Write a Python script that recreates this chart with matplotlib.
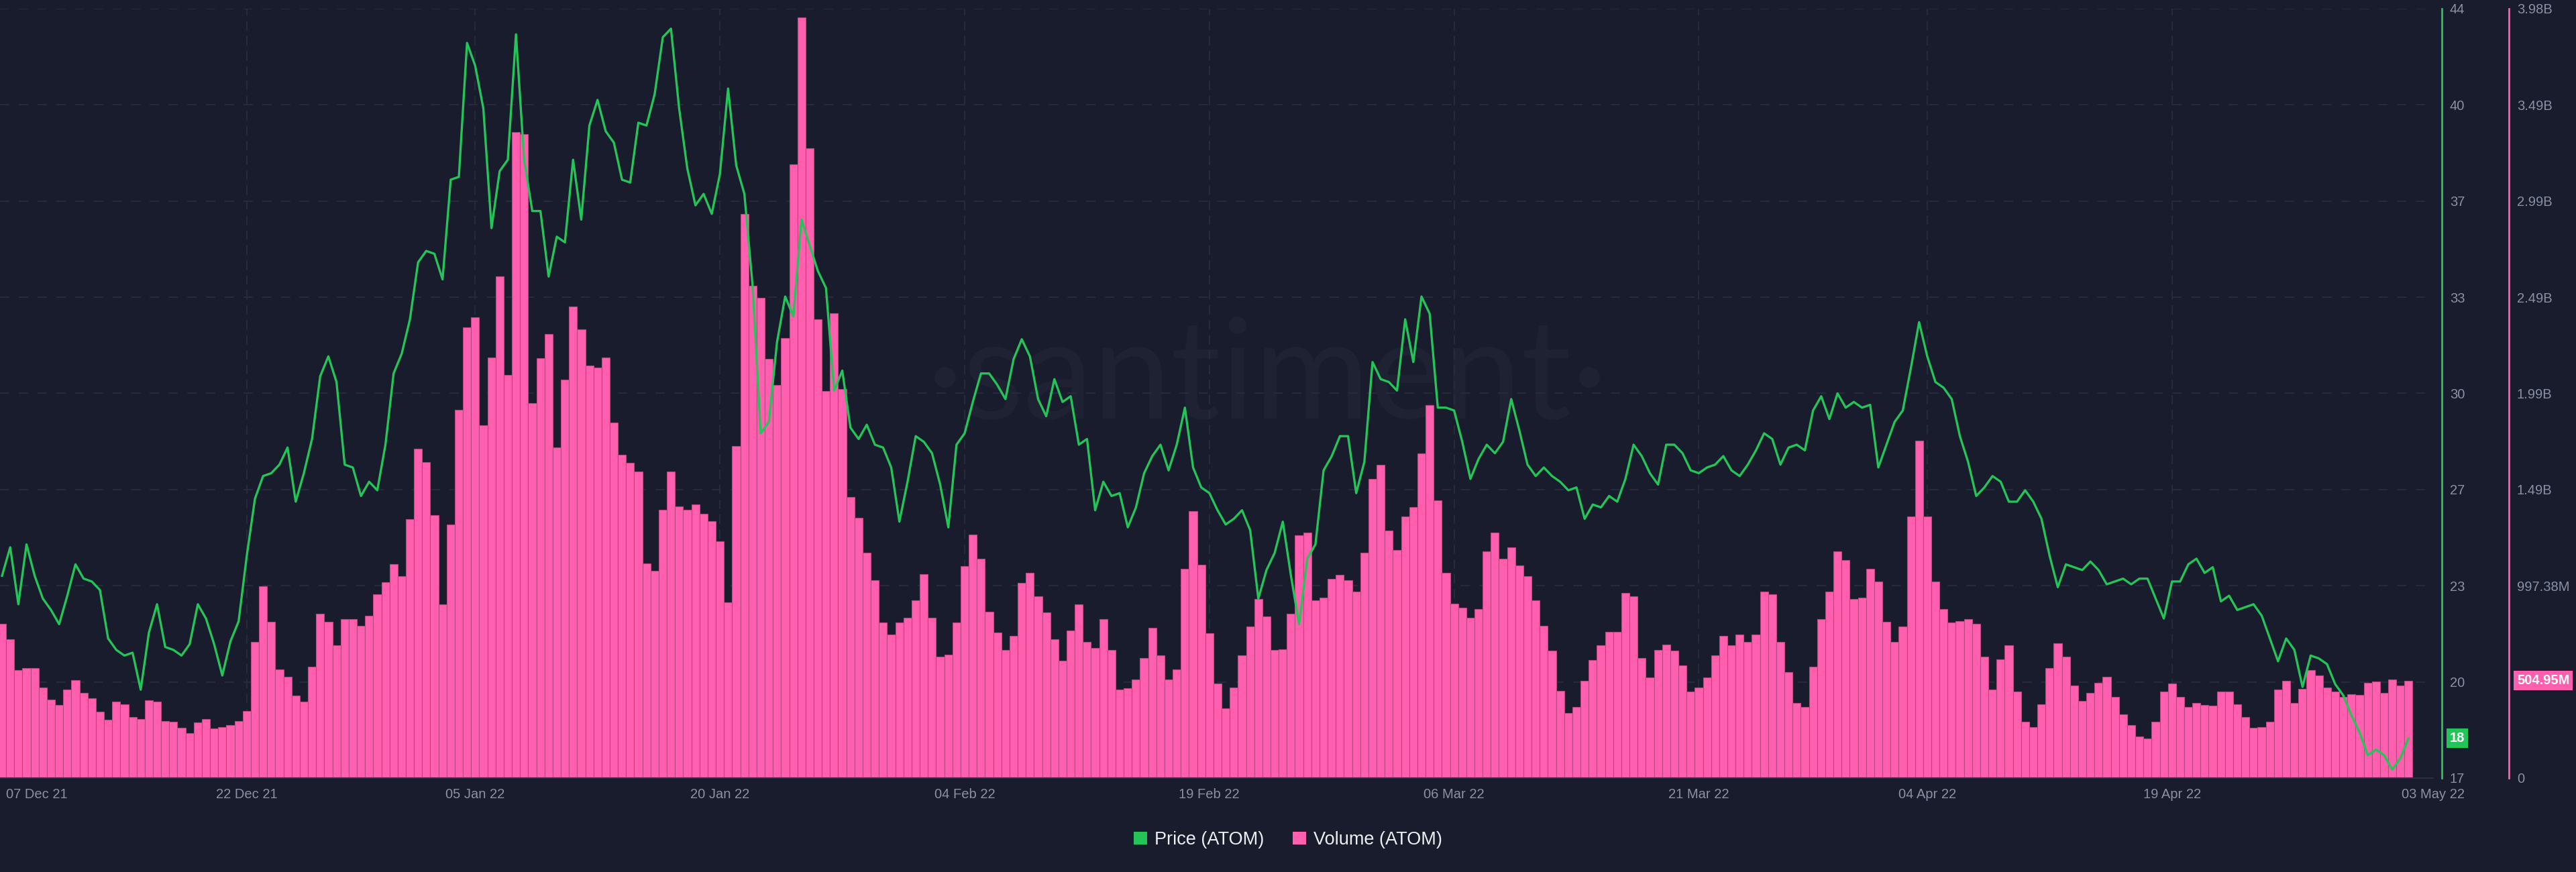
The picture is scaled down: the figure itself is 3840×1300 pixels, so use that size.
import numpy as np
import pandas as pd
import matplotlib
matplotlib.use("Agg")
import matplotlib.pyplot as plt
from matplotlib.patches import Patch
from matplotlib.transforms import blended_transform_factory

# ============================================================
# Data (12h samples)
# ============================================================
price = [
    24.1, 25.1, 23.1, 25.2, 24.1, 23.3, 22.9, 22.4, 23.4, 24.5, 24.0, 23.9, 23.6, 21.9, 21.5,
    21.3, 21.4, 20.1, 22.1, 23.1, 21.6, 21.5, 21.3, 21.7, 23.1, 22.6, 21.7, 20.6, 21.8, 22.5,
    24.8, 26.8, 27.6, 27.7, 28.0, 28.6, 26.7, 27.7, 28.9, 31.1, 31.8, 30.9, 28.0,
    27.9, 26.9, 27.4, 27.1, 28.7, 31.2, 31.9, 33.1, 35.1, 35.5, 35.4, 34.5, 38.0, 38.1, 42.8,
    42.0, 40.5, 36.3, 38.3, 38.7, 43.1, 38.7, 36.9, 36.9, 34.6, 36.0, 35.8, 38.7, 36.6, 39.9,
    40.8, 39.7, 39.3, 38.0, 37.9, 40.0, 39.9, 41.0, 43.0, 43.3, 40.5, 38.4, 37.1,
    37.5, 36.8, 38.2, 41.2, 38.5, 37.5, 34.3, 29.1, 29.5, 32.3, 33.9, 33.2, 36.6, 35.7, 34.8,
    34.2, 30.6, 31.3, 29.3, 28.9, 29.4, 28.7, 28.6, 27.9, 26.0, 27.4, 29.0, 28.8, 28.4, 27.3,
    25.8, 28.7, 29.1, 30.2, 31.2, 31.2, 30.8, 30.3, 31.7, 32.4, 31.8, 30.3, 29.7,
    31.0, 30.2, 30.4, 28.7, 28.9, 26.4, 27.4, 26.9, 27.0, 25.8, 26.5, 27.7, 28.3, 28.7, 27.8,
    28.7, 30.0, 27.9, 27.2, 27.0, 26.4, 25.9, 26.1, 26.4, 25.7, 23.3, 24.3, 24.9, 26.0, 24.1,
    22.4, 24.7, 25.2, 27.8, 28.3, 29.0, 29.0, 27.0, 28.1, 31.6, 31.0, 30.9, 30.6,
    33.1, 31.6, 33.9, 33.3, 30.0, 30.0, 29.9, 28.8, 27.5, 28.2, 28.7, 28.4, 28.8, 30.3, 29.2,
    28.0, 27.6, 27.9, 27.6, 27.4, 27.1, 27.2, 26.1, 26.6, 26.5, 26.9, 26.7, 27.5, 28.7, 28.3,
    27.7, 27.3, 28.7, 28.7, 28.4, 27.8, 27.7, 27.9, 28.0, 28.3, 27.8, 27.6,
    28.0, 28.5, 29.1, 28.9, 28.0, 28.6, 28.7, 28.5, 29.9, 30.4, 29.6, 30.5, 30.0, 30.2, 30.0,
    30.1, 27.9, 28.7, 29.5, 29.9, 31.4, 33.0, 31.8, 30.9, 30.7, 30.3, 29.0, 28.1, 26.9, 27.2,
    27.6, 27.4, 26.7, 26.7, 27.1, 26.7, 26.1, 24.8, 23.7, 24.5, 24.4, 24.3, 24.6,
    24.3, 23.8, 23.9, 24.0, 23.8, 24.0, 24.0, 23.3, 22.6, 23.9, 23.9, 24.5, 24.7, 24.2, 24.4,
    23.2, 23.4, 22.9, 23.0, 23.1, 22.7, 21.9, 21.1, 21.9, 21.5, 20.2, 21.3, 21.2, 21.0, 20.3,
    19.9, 19.2, 18.6, 17.8, 18.0, 17.8, 17.3, 17.7, 18.4,
]

# volume in millions
volume_m = [
    799, 720, 559, 572, 570, 468, 408, 380, 458, 507, 442, 414, 343, 302, 395,
    382, 317, 307, 403, 395, 297, 291, 260, 234, 289, 307, 258, 265, 276, 297,
    349, 707, 994, 812, 564, 525, 427, 395, 577, 851, 812, 689, 825,
    825, 791, 843, 952, 1014, 1111, 1046, 1342, 1709, 1639, 1363, 900, 1316, 1909, 2338,
    2390, 1831, 2182, 2601, 2091, 3350, 3340, 1946, 2177, 2302, 1714, 2065, 2445, 2328, 2138,
    2130, 2182, 1844, 1678, 1636, 1589, 1113, 1074, 1392, 1589, 1410, 1392, 1420,
    1371, 1332, 1228, 913, 1722, 2924, 2554, 2489, 2174, 2039, 2281, 3184, 3946, 3267, 2380,
    2008, 2411, 2018, 1457, 1350, 1168, 1027, 806, 746, 806, 830, 923, 1059, 830, 629,
    640, 806, 1098, 1264, 1137, 864, 754, 663, 739, 1012, 1066, 942, 858,
    720, 609, 765, 900, 707, 674, 825, 663, 458, 466, 510, 622, 778, 635, 512,
    564, 1085, 1384, 1105, 752, 492, 362, 471, 635, 786, 929, 838, 663, 668, 851,
    1259, 1272, 923, 934, 1033, 1053, 1025, 968, 1168, 1550, 1623, 1285, 1183,
    1358, 1405, 1683, 1935, 1441, 1066, 903, 882, 830, 877, 1176, 1272, 1137, 1196, 1103,
    1046, 923, 791, 661, 453, 338, 369, 505, 611, 689, 759, 759, 960, 942, 622,
    520, 663, 692, 661, 583, 447, 468, 523, 635, 739, 687, 746,
    707, 746, 968, 952, 707, 551, 388, 369, 577, 825, 968, 1176, 1131, 929, 934,
    1085, 1020, 812, 707, 786, 1358, 1748, 1358, 1020, 877, 806, 814, 825, 799, 629,
    458, 616, 687, 447, 291, 265, 382, 570, 700, 629, 479, 401, 440,
    494, 525, 421, 330, 276, 216, 205, 291, 447, 492, 421, 369, 388, 380, 375,
    447, 447, 382, 317, 260, 265, 291, 460, 505, 390, 463, 560, 531, 468, 447,
    421, 434, 432, 494, 502, 440, 512, 479, 504.95,
]

dates = pd.date_range("2021-12-07 00:00", periods=len(price), freq="12h")

x_labels = ["07 Dec 21", "22 Dec 21", "05 Jan 22", "20 Jan 22", "04 Feb 22", "19 Feb 22",
            "06 Mar 22", "21 Mar 22", "04 Apr 22", "19 Apr 22", "03 May 22"]
x_label_dates = ["2021-12-07", "2021-12-22", "2022-01-05", "2022-01-20", "2022-02-04",
                 "2022-02-19", "2022-03-06", "2022-03-21", "2022-04-04", "2022-04-19", "2022-05-03"]

price_min, price_max = 17, 44
vol_max = 3989.5  # millions

# ============================================================
# Style
# ============================================================
BG = "#191c2c"
GRID = "#262a3d"
GREEN = "#24c558"
PINK = "#ff5fae"
TXT = "#8a91a6"

plt.rcParams['font.family'] = ['Liberation Sans', 'DejaVu Sans']

fig = plt.figure(figsize=(38.4, 13), dpi=100, facecolor=BG)
ax = fig.add_axes([0, 0.1077, 0.9445, 0.8823], facecolor=BG)
ax2 = ax.twinx()

x_left = dates[0] - pd.Timedelta(hours=3)
x_right = pd.Timestamp("2022-05-05 00:00")

# volume bars
ax.bar(dates, volume_m, width=0.5, color=PINK, edgecolor="#b8487f", linewidth=0.8, zorder=2)
ax.set_ylim(0, vol_max)
ax.set_xlim(x_left, x_right)

# price line
ax2.plot(dates, price, color=GREEN, lw=2.4, zorder=3)
ax2.set_ylim(price_min, price_max)

# watermark
ax.text(0.492, 0.565, "·santiment·", transform=fig.transFigure, fontsize=150,
        color="#1e2233", ha="center", va="center", zorder=0.5, family="Lato")

# y ticks
price_ticks = np.linspace(price_min, price_max, 9)
ax2.set_yticks(price_ticks)
ax2.set_yticklabels([str(int(np.floor(v))) for v in price_ticks])

vol_ticks = np.linspace(0, vol_max, 9)
def fmt_vol(v):
    if v == 0:
        return "0"
    if v >= 1000:
        return f"{np.floor(v / 10) / 100:.2f}B"
    return f"{v:.2f}M"
ax.yaxis.tick_right()
ax.set_yticks(vol_ticks)
ax.set_yticklabels([fmt_vol(v) for v in vol_ticks])

# grid
ax.yaxis.grid(True, color=GRID, lw=1.5, dashes=(6.7, 6.7))
ax.set_axisbelow(True)
for d in x_label_dates[1:-1]:
    ax.axvline(pd.Timestamp(d), color=GRID, lw=1.5, dashes=(6.7, 4), zorder=1)

# x ticks (end labels sit at the chart edges)
x_pos = [x_left + pd.Timedelta(hours=9)] + [pd.Timestamp(d) for d in x_label_dates[1:-1]] + [x_right]
ax.set_xticks(x_pos)
ax.set_xticklabels(x_labels)
xt = ax.get_xticklabels()
xt[0].set_ha("left")
ax.tick_params(axis="x", length=0, pad=11, labelsize=14.5, labelcolor=TXT)
ax.tick_params(axis="y", length=0, pad=8.5, labelsize=14.5, labelcolor=TXT)
ax2.tick_params(axis="y", length=0, pad=8.5, labelsize=14.5, labelcolor=TXT)

# spines
for s in ["top", "left"]:
    ax.spines[s].set_visible(False)
    ax2.spines[s].set_visible(False)
ax2.spines["bottom"].set_visible(False)
ax.spines["bottom"].set_color("#2b2f43")
ax.spines["bottom"].set_linewidth(1.5)
ax2.spines["right"].set_position(("axes", 1.0036))
ax2.spines["right"].set_color(GREEN)
ax2.spines["right"].set_linewidth(2)
ax.spines["right"].set_position(("axes", 1.0312))
ax.spines["right"].set_color(PINK)
ax.spines["right"].set_linewidth(2)

# last-value badges
tr2 = blended_transform_factory(ax.transAxes, ax2.transData)
ax2.text(1.0069, price[-1], f"{price[-1]:.0f}", transform=tr2, ha="left", va="center",
         fontsize=14.5, color="white", fontweight="bold", zorder=10, clip_on=False,
         bbox=dict(boxstyle="square,pad=0.25", facecolor=GREEN, edgecolor="none"))
tr1 = blended_transform_factory(ax.transAxes, ax.transData)
ax.text(1.0345, volume_m[-1], f"{volume_m[-1]:.2f}M", transform=tr1, ha="left", va="center",
        fontsize=14.5, color="white", fontweight="bold", zorder=10, clip_on=False,
        bbox=dict(boxstyle="square,pad=0.25", facecolor=PINK, edgecolor="none"))

# legend
handles = [Patch(facecolor=GREEN, edgecolor="none", label="Price (ATOM)"),
           Patch(facecolor=PINK, edgecolor="none", label="Volume (ATOM)")]
leg = fig.legend(handles=handles, loc="center", bbox_to_anchor=(0.5, 0.037), ncol=2,
                 frameon=False, fontsize=19.5, handlelength=0.72, handleheight=0.72,
                 handletextpad=0.4, columnspacing=1.6, labelcolor="#eceef4")

fig.savefig("out.png", dpi=100, facecolor=BG)
